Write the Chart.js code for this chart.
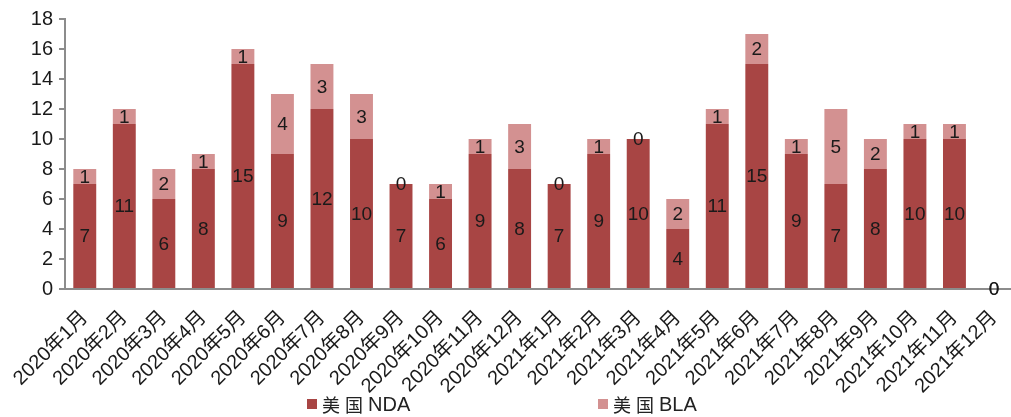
<!DOCTYPE html>
<html>
<head>
<meta charset="utf-8">
<script src="https://cdn.jsdelivr.net/npm/chart.js@4/dist/chart.umd.min.js"></script>
<style>
  html, body { margin: 0; padding: 0; background: #fff; overflow: hidden; }
  #wrap { position: relative; width: 1020px; height: 417px; }
  #legend { position: absolute; top: 392px; left: 0; width: 1011px; height: 24px;
            font-family: "Liberation Sans", Arial, "Noto Sans CJK SC", sans-serif; font-size: 20px; color: #222; }
  .item { position: absolute; top: 0; display: flex; align-items: center; height: 24px; }
  .sw { width: 10px; height: 10px; margin-right: 5px; }
  .cjk { font-family: "Noto Sans CJK SC", serif; font-size: 18px; letter-spacing: 5px; }
</style>
</head>
<body>
<div id="wrap">
  <canvas id="c" width="1020" height="417"></canvas>
  <div id="legend">
    <div class="item" style="left:307px"><span class="sw" style="background:#A84544"></span><span class="cjk">美国</span><span>NDA</span></div>
    <div class="item" style="left:598px"><span class="sw" style="background:#D39191"></span><span class="cjk">美国</span><span>BLA</span></div>
  </div>
</div>
<script>
// Monthly US approvals, Jan 2020 – Dec 2021
const months = [
  "2020年1月","2020年2月","2020年3月","2020年4月","2020年5月","2020年6月",
  "2020年7月","2020年8月","2020年9月","2020年10月","2020年11月","2020年12月",
  "2021年1月","2021年2月","2021年3月","2021年4月","2021年5月","2021年6月",
  "2021年7月","2021年8月","2021年9月","2021年10月","2021年11月","2021年12月"
];
const ndaCounts = [7,11,6,8,15,9,12,10,7,6,9,8,7,9,10,4,11,15,9,7,8,10,10,0];
const blaCounts = [1,1,2,1,1,4,3,3,0,1,1,3,0,1,0,2,1,2,1,5,2,1,1,0];
const yTicks = [0,2,4,6,8,10,12,14,16,18];

const FONT = '"Liberation Sans", Arial, "Noto Sans CJK SC", sans-serif';

// Writes each segment's value at the middle of its stacked segment
const segmentValues = {
  id: 'segmentValues',
  afterDatasetsDraw(chart) {
    const ctx = chart.ctx;
    ctx.save();
    ctx.font = '19px ' + FONT;
    ctx.fillStyle = '#1a1a1a';
    ctx.textAlign = 'center';
    ctx.textBaseline = 'middle';
    chart.data.datasets.forEach((ds, di) => {
      const meta = chart.getDatasetMeta(di);
      meta.data.forEach((bar, i) => {
        const y = (bar.y + bar.base) / 2;
        ctx.fillText(String(ds.data[i]), bar.x, y + 1);
      });
    });
    ctx.restore();
  }
};

new Chart(document.getElementById('c'), {
  type: 'bar',
  data: {
    labels: months,
    datasets: [
      { label: '美国NDA', data: ndaCounts, backgroundColor: '#A84544', stack: 's' },
      { label: '美国BLA', data: blaCounts, backgroundColor: '#D39191', stack: 's' }
    ]
  },
  options: {
    responsive: false,
    animation: false,
    layout: { padding: { top: 19, right: 2, left: 0, bottom: 0 } },
    plugins: { legend: { display: false }, tooltip: { enabled: false } },
    datasets: { bar: { categoryPercentage: 1, barPercentage: 0.58 } },
    scales: {
      x: {
        stacked: true,
        grid: { display: false },
        border: { display: true, color: '#8c8c8c', width: 2 },
        ticks: {
          minRotation: 45, maxRotation: 45, autoSkip: false,
          color: '#1a1a1a', font: { family: FONT, size: 20 }, padding: 9
        },
        afterFit(s) { s.height = 128; }
      },
      y: {
        stacked: true,
        min: 0, max: 18,
        afterBuildTicks(s) { s.ticks = yTicks.map(v => ({ value: v })); },
        grid: { display: true, drawOnChartArea: false, drawTicks: true, tickLength: 6, color: '#8c8c8c', lineWidth: 2 },
        border: { display: true, color: '#8c8c8c', width: 2 },
        ticks: { color: '#1a1a1a', font: { family: FONT, size: 20 }, padding: 6 },
        afterFit(s) { s.width = 65; }
      }
    }
  },
  plugins: [segmentValues]
});
</script>
</body>
</html>
